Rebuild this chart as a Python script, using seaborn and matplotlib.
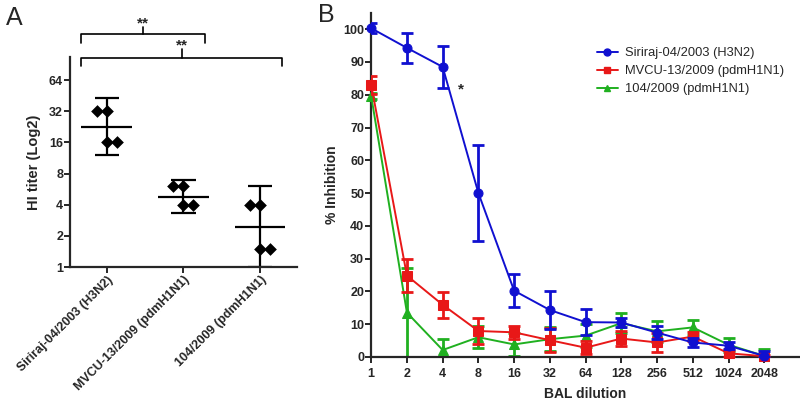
import numpy as np
import pandas as pd
import matplotlib
matplotlib.use("Agg")
import matplotlib.pyplot as plt
import matplotlib.transforms as mtransforms
from matplotlib.lines import Line2D
import seaborn as sns

# ---------------- data ----------------
strains = ["Siriraj-04/2003 (H3N2)", "MVCU-13/2009 (pdmH1N1)", "104/2009 (pdmH1N1)"]
hi_siriraj = [32, 32, 16, 16]
hi_mvcu = [6, 6, 4, 4]
hi_104 = [4, 4, 1.5, 1.5]
hi_jitter = [-0.13, 0.0, 0.0, 0.13]
hi_mean = [22.4, 4.8, 2.46]
hi_low = [12.0, 3.3, 1.0]
hi_high = [42.7, 7.0, 6.0]
hi_ticks = [1, 2, 4, 8, 16, 32, 64]

dilutions = [1, 2, 4, 8, 16, 32, 64, 128, 256, 512, 1024, 2048]
siriraj_mean = [100.3, 94.3, 88.5, 50.0, 20.2, 14.3, 10.6, 10.5, 7.4, 4.4, 3.4, 0.3]
siriraj_err = [1.5, 4.6, 6.5, 14.7, 5.0, 5.7, 4.0, 1.5, 2.0, 1.5, 1.0, 1.5]
mvcu_mean = [83.0, 24.8, 15.9, 7.9, 7.5, 5.1, 2.8, 5.6, 4.4, 6.2, 1.1, 0.2]
mvcu_err = [2.7, 5.0, 4.0, 4.0, 2.0, 3.6, 2.0, 2.3, 2.8, 1.5, 1.0, 0.5]
s104_mean = [79.6, 13.5, 2.1, 6.0, 3.8, 5.4, 6.5, 10.3, 7.8, 9.0, 3.7, 0.3]
s104_err = [1.0, 13.5, 3.3, 3.3, 3.6, 3.7, 3.5, 3.0, 3.3, 2.3, 2.2, 2.0]

colors = ["#1010D0", "#E81818", "#20B020"]
markers = ["o", "s", "^"]

sns.set_style("ticks")
plt.rcParams["font.family"] = ["Liberation Sans", "DejaVu Sans"]

fig = plt.figure(figsize=(8.0, 4.01), dpi=100)

# ---------------- Panel A ----------------
axA = fig.add_axes([0.0875, 0.334, 0.2835, 0.524])
rows = []
for i, (name, vals) in enumerate(zip(strains, [hi_siriraj, hi_mvcu, hi_104])):
    for v, j in zip(vals, hi_jitter):
        rows.append({"strain": name, "pos": i + j, "titer": v})
dfA = pd.DataFrame(rows)
axA.set_yscale("log", base=2)
sns.scatterplot(data=dfA, x="pos", y="titer", marker="D", s=42, color="black",
                edgecolor="black", linewidth=0, ax=axA, zorder=3, legend=False)
for i in range(len(strains)):
    axA.hlines(hi_mean[i], i - 0.33, i + 0.33, color="black", lw=1.6)
    axA.vlines(i, hi_low[i], hi_high[i], color="black", lw=1.6)
    axA.hlines([hi_low[i], hi_high[i]], i - 0.16, i + 0.16, color="black", lw=1.6)
axA.set_xlim(-0.48, 2.48)
axA.set_ylim(1, 107)
axA.set_yticks(hi_ticks)
axA.set_yticklabels([str(t) for t in hi_ticks], fontweight="bold", fontsize=9)
axA.yaxis.set_minor_locator(matplotlib.ticker.NullLocator())
axA.set_xticks(range(len(strains)))
axA.set_xticklabels(strains, rotation=45, ha="right", rotation_mode="anchor",
                    fontweight="bold", fontsize=9)
axA.set_xlabel("")
axA.set_ylabel("HI titer (Log2)", fontweight="bold", fontsize=10.5, labelpad=6)
for s in ["top", "right"]:
    axA.spines[s].set_visible(False)
for s in ["left", "bottom"]:
    axA.spines[s].set_linewidth(1.6)
axA.tick_params(width=1.4, length=4, pad=1)

tr = mtransforms.blended_transform_factory(axA.transData, axA.transAxes)
def bracket(x0, x1, yh, ye, yt):
    xm = (x0 + x1) / 2
    axA.plot([x0, x0, x1, x1], [ye, yh, yh, ye], color="black", lw=1.2,
             transform=tr, clip_on=False, solid_joinstyle="round")
    axA.plot([xm, xm], [yh, yt], color="black", lw=1.2, transform=tr, clip_on=False)
    axA.text(xm, yt - 0.015, "**", ha="center", va="bottom", fontsize=11,
             fontweight="bold", transform=tr)
bracket(-0.33, 1.28, 1.11, 1.067, 1.143)
bracket(-0.33, 2.29, 0.995, 0.957, 1.038)

fig.text(0.008, 0.955, "A", fontsize=18, ha="left", va="center")
fig.text(0.397, 0.962, "B", fontsize=18, ha="left", va="center")

# ---------------- Panel B ----------------
axB = fig.add_axes([0.464, 0.110, 0.536, 0.858])
axB.set_xscale("log", base=2)
rowsB = []
for name, m in zip(strains, [siriraj_mean, mvcu_mean, s104_mean]):
    for d, v in zip(dilutions, m):
        rowsB.append({"strain": name, "dilution": d, "inhibition": v})
dfB = pd.DataFrame(rowsB)
order = [2, 1, 0]
for k in order:
    name = strains[k]
    m = np.array([siriraj_mean, mvcu_mean, s104_mean][k])
    e = np.array([siriraj_err, mvcu_err, s104_err][k])
    lower = np.minimum(e, m)
    axB.errorbar(dilutions, m, yerr=[lower, e], fmt="none", ecolor=colors[k],
                 elinewidth=2.0, capsize=4, capthick=2.0, zorder=2 + (2 - k))
    sub = dfB[dfB["strain"] == name]
    sns.lineplot(data=sub, x="dilution", y="inhibition", color=colors[k],
                 marker=markers[k], markersize=6.5, markeredgecolor=colors[k],
                 lw=1.4, ax=axB, zorder=3 + (2 - k), clip_on=False, legend=False)
axB.set_xlim(1, 4096)
axB.set_ylim(0, 105)
axB.set_xticks(dilutions)
axB.set_xticklabels([str(d) for d in dilutions], fontweight="bold", fontsize=9)
axB.xaxis.set_minor_locator(matplotlib.ticker.NullLocator())
axB.set_yticks(range(0, 101, 10))
axB.set_yticklabels([str(t) for t in range(0, 101, 10)], fontweight="bold", fontsize=9)
axB.set_xlabel("BAL dilution", fontweight="bold", fontsize=10, labelpad=5)
axB.set_ylabel("% Inhibition", fontweight="bold", fontsize=10, labelpad=3)
for s in ["top", "right"]:
    axB.spines[s].set_visible(False)
for s in ["left", "bottom"]:
    axB.spines[s].set_linewidth(1.6)
axB.tick_params(width=1.4, length=4, pad=1)
axB.tick_params(axis="x", pad=4)
axB.text(5.7, 81.5, "*", fontsize=11, fontweight="bold", ha="center", va="center")

handles = [Line2D([0], [0], color=colors[k], marker=markers[k], markersize=5,
                  lw=1.4) for k in range(3)]
axB.legend(handles, strains, loc="upper left", bbox_to_anchor=(0.738, 0.898),
           bbox_transform=fig.transFigure, frameon=False, fontsize=9.3,
           handlelength=1.6, handletextpad=0.55, labelspacing=0.45, borderpad=0)

fig.savefig("out.png", dpi=100)
